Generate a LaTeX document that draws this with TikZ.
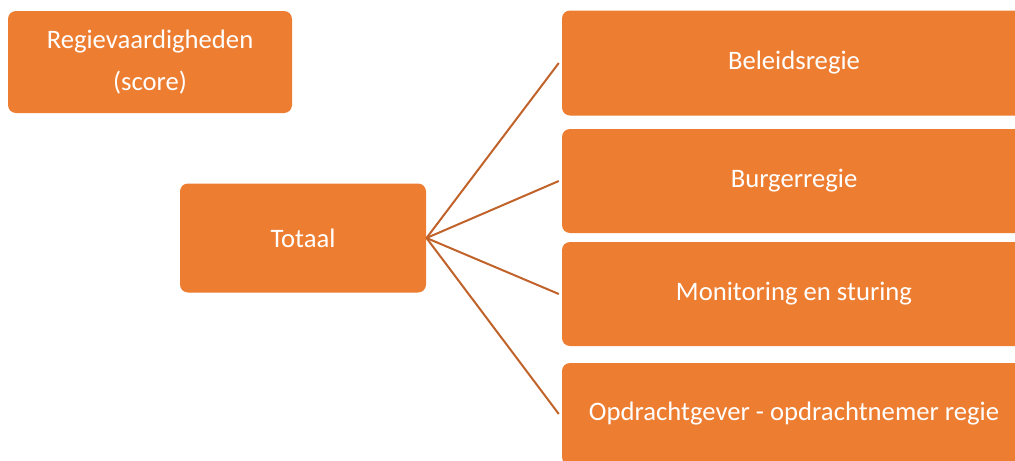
\documentclass[tikz,border=0pt]{standalone}
\usepackage{fontspec}
\setmainfont{Carlito}
\definecolor{boxfill}{HTML}{ED7D31}
\definecolor{linkcol}{HTML}{C0622A}
\begin{document}
\begin{tikzpicture}[x=0.75pt, y=-0.75pt, thick,
  main/.style = {fill=boxfill, rounded corners=6pt, text=white, align=center, inner sep=0pt,
    font=\fontsize{20}{31}\selectfont},
  link/.style = {draw=linkcol, line width=1.5pt}]
  \useasboundingbox (0,0) rectangle (1015,461);
  \clip (0,0) rectangle (1015,461);

  \node[main, minimum width=213pt, minimum height=76.5pt] (score) at (150,62) {Regievaardigheden\\(score)};

  \node[main, minimum width=184.5pt, minimum height=81.75pt] (tot) at (303,238) {Totaal};

  \node[main, minimum width=348pt, minimum height=78.75pt] (b1) at (794,63) {Beleidsregie};
  \node[main, minimum width=348pt, minimum height=78pt] (b2) at (794,181) {Burgerregie};
  \node[main, minimum width=348pt, minimum height=78pt] (b3) at (794,294) {Monitoring en sturing};
  \node[main, minimum width=348pt, minimum height=76.5pt] (b4) at (794,414) {Opdrachtgever - opdrachtnemer regie};

  \draw[link] (tot.east) -- ([xshift=-2pt]b1.west);
  \draw[link] (tot.east) -- ([xshift=-2pt]b2.west);
  \draw[link] (tot.east) -- ([xshift=-2pt]b3.west);
  \draw[link] (tot.east) -- ([xshift=-2pt]b4.west);
\end{tikzpicture}
\end{document}
